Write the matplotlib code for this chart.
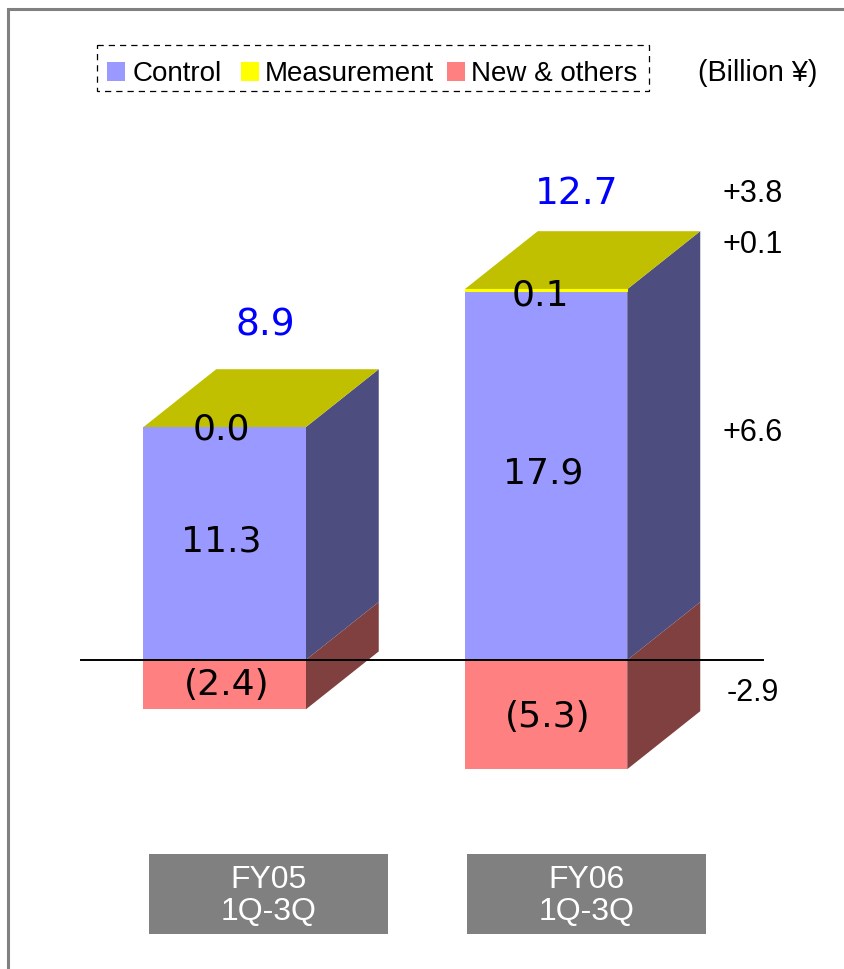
import matplotlib
matplotlib.use("Agg")
import matplotlib.pyplot as plt
from matplotlib.patches import Polygon, Rectangle

# du lieu doc tu hinh
periods = ["FY05\n1Q-3Q", "FY06\n1Q-3Q"]
control = [11.3, 17.9]
measurement = [0.0, 0.1]
new_others = [-2.4, -5.3]
totals = [8.9, 12.7]
delta_labels = ["+3.8", "+0.1", "+6.6", "-2.9"]
legend_names = ["Control", "Measurement", "New & others"]
unit_label = "(Billion ¥)"

BLUE, YELLOW, RED = "#9999FF", "#FFFF00", "#FF8080"
BLUE_SIDE, YELLOW_TOP, RED_SIDE = "#4D4D80", "#C0C000", "#804040"
WIDE = "DejaVu Sans"
PLAIN = "Liberation Sans"

W, H = 845, 970
PX_PER_UNIT = 20.6
X0, Y0 = 224.5, 661
STEP = 321.5

fig = plt.figure(figsize=(W / 100, H / 100), dpi=100, facecolor="white")
ax = fig.add_axes([0, 0, 1, 1])
ax.set_xlim(-X0 / STEP, (W - X0) / STEP)
ax.set_ylim(-(H - Y0) / PX_PER_UNIT, Y0 / PX_PER_UNIT)
ax.axis("off")

# lop phu theo toa do pixel cho khung, chu thich
ov = fig.add_axes([0, 0, 1, 1], zorder=5)
ov.set_xlim(0, W)
ov.set_ylim(H - 1, -1)
ov.axis("off")
ov.patch.set_alpha(0)

bar_w = 162.5 / STEP
dx = 73 / STEP
dy = 58 / PX_PER_UNIT


def draw_bar(i):
    l, r = i - bar_w / 2, i + bar_w / 2
    c, m, n = control[i], measurement[i], new_others[i]
    top = c + m
    # mat ben
    ax.add_patch(Polygon([(r, 0), (r + dx, dy), (r + dx, top + dy), (r, top)], fc=BLUE_SIDE, ec="none", zorder=1))
    ax.add_patch(Polygon([(r, n), (r + dx, n + dy), (r + dx, dy), (r, 0)], fc=RED_SIDE, ec="none", zorder=2))
    # mat tren
    ax.add_patch(Polygon([(l, top), (l + dx, top + dy), (r + dx, top + dy), (r, top)], fc=YELLOW_TOP, ec="none", zorder=2))
    # mat truoc
    ax.bar(i, c, bar_w, color=BLUE, zorder=3)
    if m > 0:
        ax.bar(i, m, bar_w, bottom=c, color=YELLOW, ec=YELLOW, lw=0.8, zorder=3)
    ax.bar(i, n, bar_w, color=RED, zorder=3)

    kw = dict(ha="center", va="center", fontsize=26, family=WIDE, color="black", zorder=6)
    off = -3 / STEP
    ax.text(i + off, c / 2 + 0.15, f"{c:.1f}", **kw)
    ax.text(i + off + 5 / STEP, n / 2 + (0.05 if i == 0 else -0.07), f"({-n:.1f})", **kw)
    ax.text(i + off * (1 if i == 0 else 2), top - (0.05 if i == 0 else 0.25), f"{m:.1f}", **kw)


for i in range(len(periods)):
    draw_bar(i)

ax.plot([(81 - X0) / STEP, (763 - X0) / STEP], [0, 0], color="black", lw=1.4, zorder=7)

# tong
total_pos = [(265, 325), (577, 193)]
for v, (x, y) in zip(totals, total_pos):
    ov.text(x, y, f"{v:.1f}", ha="center", va="center", fontsize=27, family=WIDE, color="#0000FF")

# chenh lech ben phai
delta_y = [193, 244, 432, 692]
for s, y in zip(delta_labels, delta_y):
    ov.text(753, y, s, ha="center", va="center", fontsize=22, family=PLAIN, color="black")

# nhan ky
box_x = [149, 467]
for s, x in zip(periods, box_x):
    ov.add_patch(Rectangle((x, 854), 239.5, 80, fc="#808080", ec="none"))
    ov.text(x + 119.5, 895, s, ha="center", va="center", fontsize=23, family=PLAIN, color="white", linespacing=1.13)

# chu thich
ov.add_patch(Rectangle((97, 45), 552, 46, fc="none", ec="black", lw=0.9, ls=(0, (5, 4))))
swatch_x = [107, 241, 447]
text_x = [133, 265, 471]
for name, c, sx, tx in zip(legend_names, [BLUE, YELLOW, RED], swatch_x, text_x):
    ov.add_patch(Rectangle((sx, 62), 18, 19, fc=c, ec="none"))
    ov.text(tx, 73, name, ha="left", va="center", fontsize=20, family=PLAIN, color="black")
ov.text(698, 72, unit_label, ha="left", va="center", fontsize=20.7, family=PLAIN, color="black")

# khung xam
ov.plot([8, 8, W], [H, 9, 9], color="#808080", lw=2.2, solid_joinstyle="miter")

fig.savefig("out.png", dpi=100, facecolor="white")
